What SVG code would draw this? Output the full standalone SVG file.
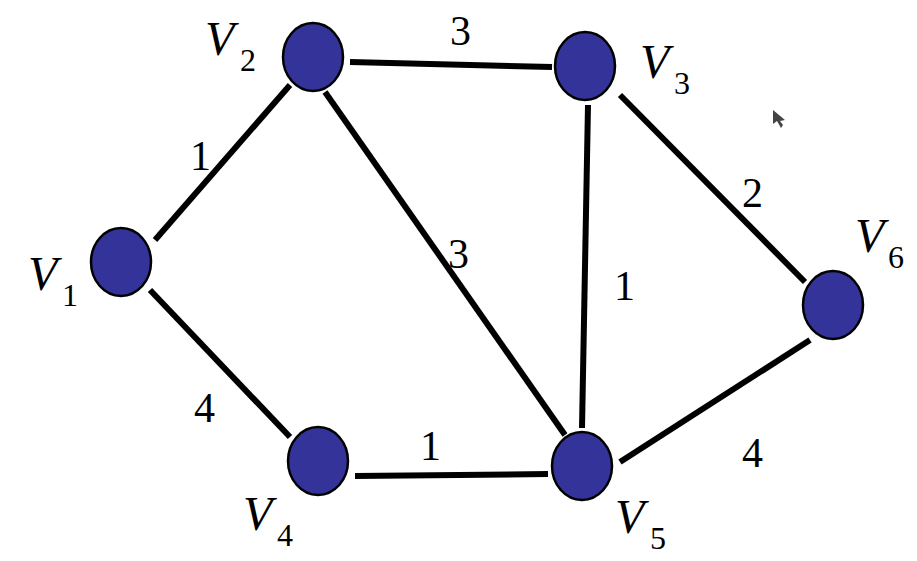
<svg xmlns="http://www.w3.org/2000/svg" width="917" height="561" viewBox="0 0 917 561">
<style>
.n{fill:#333399;stroke:#000;stroke-width:2.5}
.e{stroke:#000;stroke-width:6;fill:none}
.w{font-family:"Liberation Serif",serif;font-size:42px;fill:#000}
.v{font-family:"Liberation Serif",serif;font-size:48px;font-style:italic;fill:#000}
.s{font-family:"Liberation Serif",serif;font-size:32px;fill:#000}
</style>
<rect width="917" height="561" fill="#fff"/>
<g id="edges">
<line class="e" x1="350" y1="62" x2="552" y2="67"/>
<line class="e" x1="290" y1="85" x2="155" y2="240"/>
<line class="e" x1="150" y1="290" x2="290" y2="437"/>
<line class="e" x1="355" y1="476" x2="548" y2="474"/>
<line class="e" x1="325" y1="92" x2="565" y2="435"/>
<line class="e" x1="588" y1="105" x2="582" y2="428"/>
<line class="e" x1="620" y1="95" x2="805" y2="282"/>
<line class="e" x1="620" y1="462" x2="810" y2="340"/>
<text class="w" x="450" y="45">3</text>
<text class="w" x="190" y="170">1</text>
<text class="w" x="448" y="268">3</text>
<text class="w" x="614" y="300">1</text>
<text class="w" x="742" y="207">2</text>
<text class="w" x="194" y="422">4</text>
<text class="w" x="420" y="460">1</text>
<text class="w" x="742" y="467">4</text>
</g>
<g id="V1"><ellipse class="n" cx="121" cy="262" rx="30" ry="34"/><text class="v" x="28" y="290">V</text><text class="s" x="62" y="306">1</text></g>
<g id="V2"><ellipse class="n" cx="313" cy="57" rx="30" ry="34"/><text class="v" x="205" y="55">V</text><text class="s" x="240" y="71">2</text></g>
<g id="V3"><ellipse class="n" cx="585" cy="66" rx="30" ry="34"/><text class="v" x="640" y="78">V</text><text class="s" x="674" y="94">3</text></g>
<g id="V4"><ellipse class="n" cx="318" cy="461" rx="30" ry="34"/><text class="v" x="243" y="530">V</text><text class="s" x="277" y="546">4</text></g>
<g id="V5"><ellipse class="n" cx="582" cy="466" rx="30" ry="34"/><text class="v" x="615" y="533">V</text><text class="s" x="650" y="549">5</text></g>
<g id="V6"><ellipse class="n" cx="833" cy="305" rx="30" ry="34"/><text class="v" x="855" y="252">V</text><text class="s" x="888" y="268">6</text></g>
<polygon points="773,110 773,124 777,121 781,128 783,125 780,121 785,120" fill="#444"/>
</svg>
